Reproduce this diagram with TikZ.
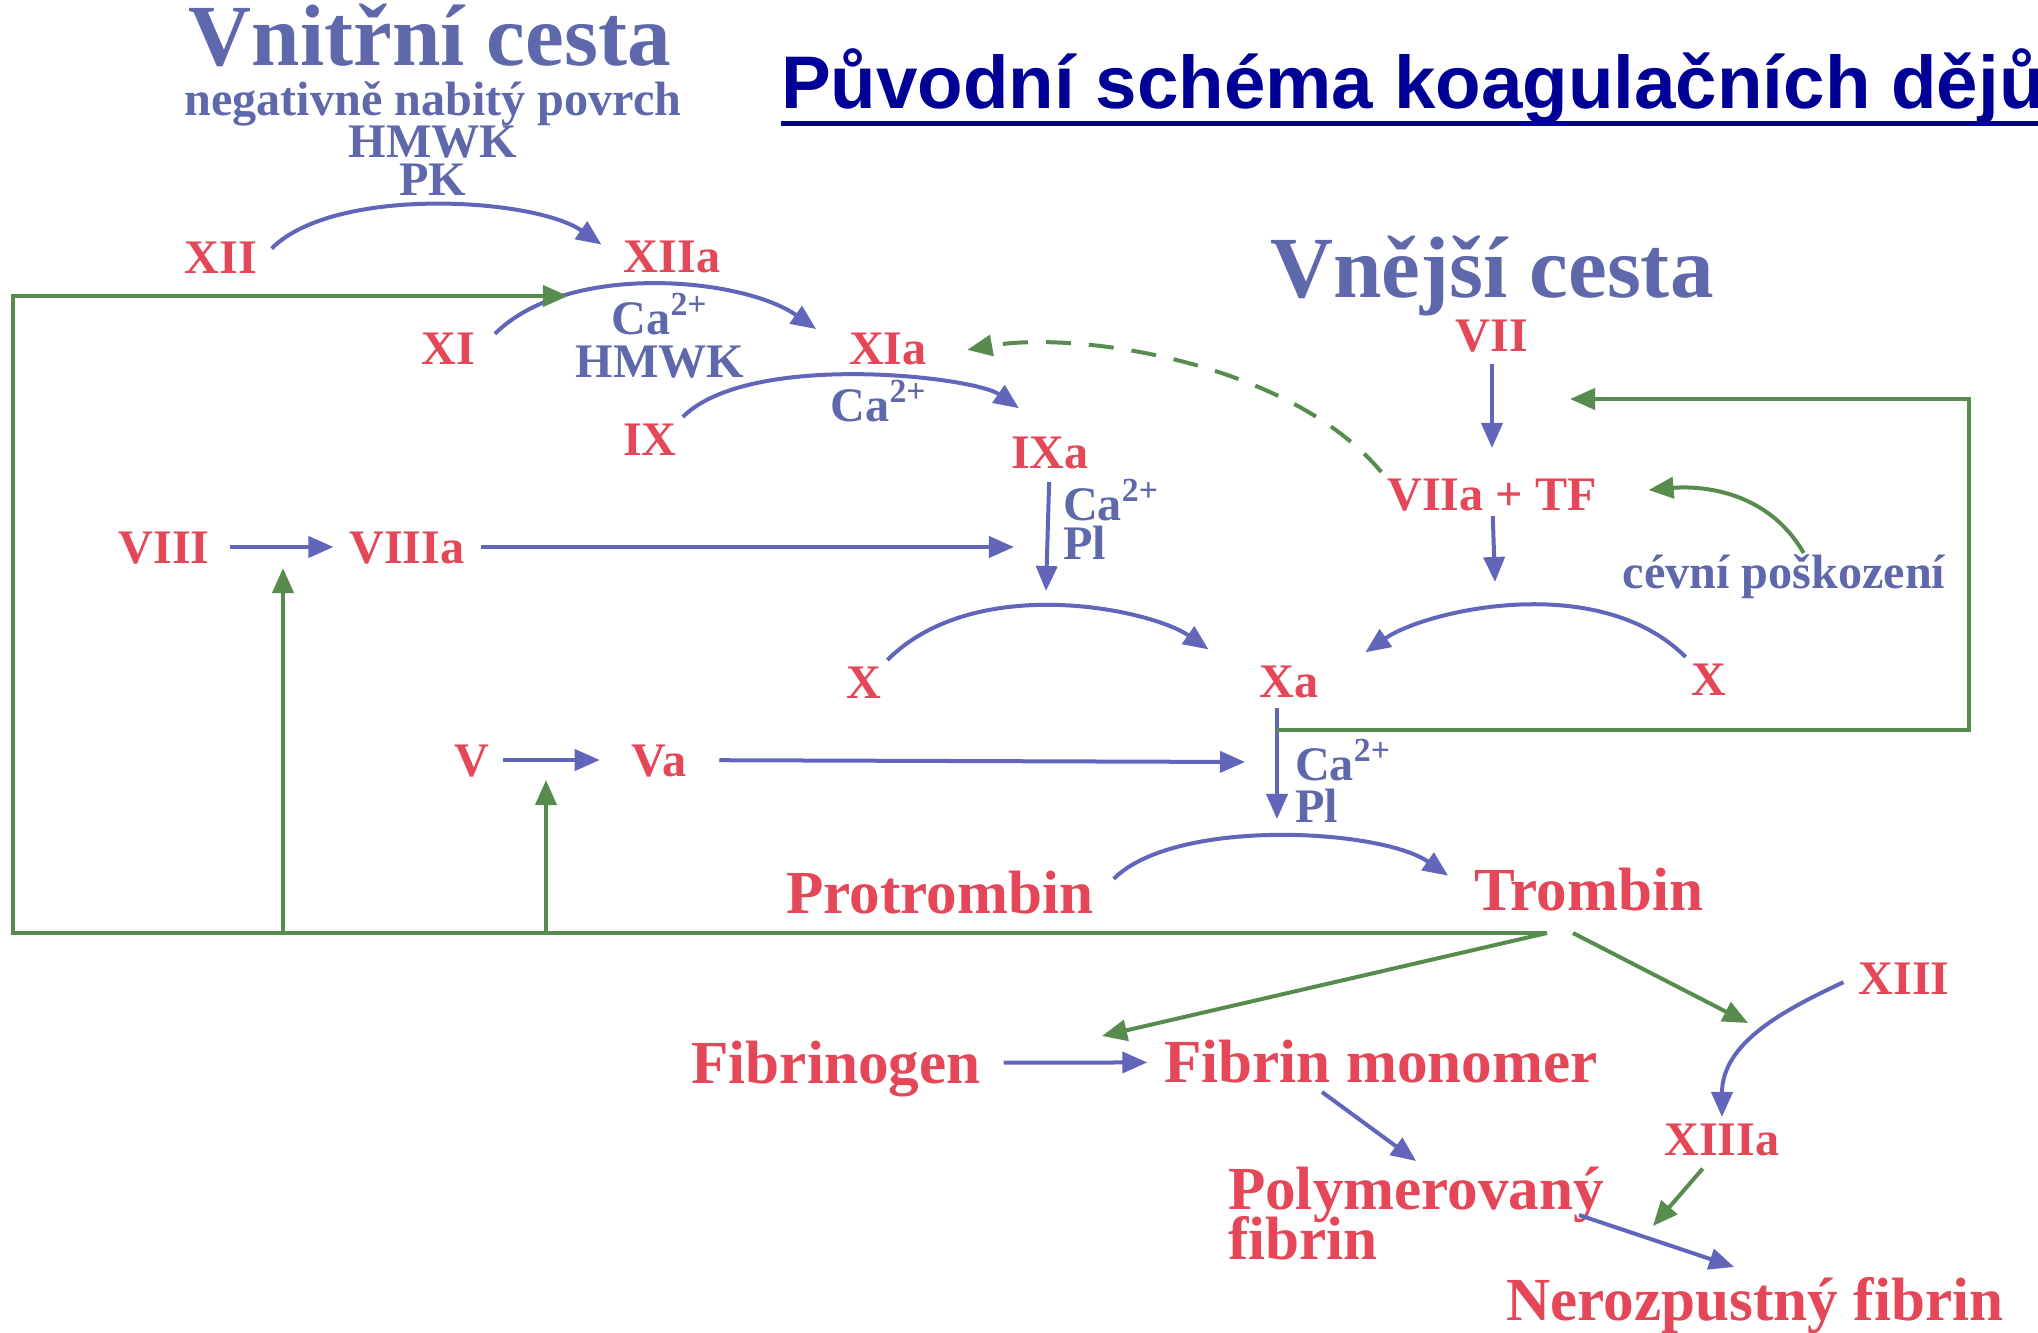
\documentclass[tikz,border=0pt]{standalone}
\usepackage{fontspec}
\setmainfont{Liberation Serif}
\newfontfamily\titlefont{Liberation Sans}
\usepackage{tikz}
\usetikzlibrary{arrows.meta,positioning}
\definecolor{labred}{RGB}{228,72,88}
\definecolor{labblue}{RGB}{96,104,172}
\definecolor{arrblue}{RGB}{98,102,186}
\definecolor{arrgreen}{RGB}{88,140,78}
\definecolor{titleblue}{RGB}{0,0,150}
\tikzset{
    %Define standard arrow tip
    >={Triangle[length=0.25cm,width=0.21cm]},
    %Define style for factors
    faktor/.style={
           rectangle,
           inner sep=0.06cm, outer sep=0pt,
           text height=0.32cm, text depth=0pt,
           font=\fontsize{13.7}{15}\selectfont\bfseries,
           text=labred},
    produkt/.style={
           faktor,
           text height=0.40cm,
           font=\fontsize{17.4}{12.8}\selectfont\bfseries},
    popis/.style={
           faktor,
           inner sep=0.03cm,
           text=labblue},
    nadpis/.style={
           faktor,
           text height=0.57cm,
           font=\fontsize{24.8}{26}\selectfont\bfseries,
           text=labblue},
    % Define arrow style
    pil/.style={
           ->,
           color=arrblue,
           line width=0.04cm},
    gpil/.style={
           pil,
           color=arrgreen}
}
\begin{document}
\begin{tikzpicture}[x=0.01cm,y=0.01cm]
\fill[white] (0,0) rectangle (2038,-1333);
\useasboundingbox (0,0) rectangle (2038,-1333);
% headings
\node[anchor=base west,inner sep=0pt,outer sep=0pt,text=titleblue,
      font=\titlefont\fontsize{21.2}{24}\selectfont\bfseries] (40) at (781,-108) {Původní schéma koagulačních dějů};
\draw[titleblue,line width=0.05cm] (40.south west) -- (40.south east);
\node[nadpis] (41) at (430,-37) {Vnitřní cesta};
\node[popis] (42) at (433,-99) {negativně nabitý povrch};
\node[popis] (43) at (433,-141) {HMWK};
\node[popis] (44) at (433,-179) {PK};
\node[nadpis] (45) at (1492,-269) {Vnější cesta};
% factors
\node[faktor] (1) at (221,-257) {XII};
\node[faktor] (2) at (672,-256) {XIIa};
\node[faktor] (3) at (448,-348) {XI};
\node[faktor] (4) at (888,-348) {XIa};
\node[faktor] (5) at (650,-439) {IX};
\node[faktor] (6) at (1050,-452) {IXa};
\node[faktor] (7) at (164,-547) {VIII};
\node[faktor] (8) at (407,-547) {VIIIa};
\node[faktor] (9) at (864,-682) {X};
\node[faktor] (10) at (1289,-681) {Xa};
\node[faktor] (11) at (1709,-679) {X};
\node[faktor] (12) at (1492,-335) {VII};
\node[faktor] (13) at (1492,-494) {VIIa + TF};
\node[faktor] (14) at (472,-760) {V};
\node[faktor] (15) at (659,-760) {Va};
\node[produkt] (16) at (940,-893) {Protrombin};
\node[produkt] (17) at (1589,-890) {Trombin};
\node[faktor] (18) at (1904,-978) {XIII};
\node[produkt] (19) at (836,-1063) {Fibrinogen};
\node[produkt] (20) at (1381,-1062) {Fibrin monomer};
\node[faktor] (21) at (1722,-1139) {XIIIa};
\node[produkt,align=left,text height=,text depth=,anchor=north west] (22) at (1222,-1161) {Polymerovaný\\[-0.1cm]fibrin};
\node[produkt] (23) at (1755,-1300) {Nerozpustný fibrin};
% cofactors
\node[popis] (24) at (660,-318) {Ca\textsuperscript{2+}};
\node[popis] (25) at (660,-361) {HMWK};
\node[popis] (26) at (879,-405) {Ca\textsuperscript{2+}};
\node[popis,anchor=west] (27) at (1060,-504) {Ca\textsuperscript{2+}};
\node[popis,anchor=west] (28) at (1060,-543) {Pl};
\node[popis,anchor=west] (29) at (1292,-764) {Ca\textsuperscript{2+}};
\node[popis,anchor=west] (30) at (1292,-806) {Pl};
\node[popis] (31) at (1784,-572) {cévní poškození};
% free ends
\coordinate (c1) at (1046,-591);
\coordinate (c2) at (1014,-547);
\coordinate (c3) at (1495,-582);
\coordinate (c4) at (1277,-819);
\coordinate (c5) at (1245,-762);
\coordinate (c6) at (1322,-1092);
\coordinate (c7) at (1579,-1215);
\coordinate (c8) at (1653,-1226);
\coordinate (c9) at (1748,-1023);
\coordinate (fm) at (1102,-1036);
\coordinate (t1) at (1547,-933);
\coordinate (t2) at (1573,-933);
\coordinate (v1) at (283,-568);
\coordinate (v2) at (546,-780);
\coordinate (l2) at (13,-296);
\coordinate (g2) at (568,-296);
\coordinate (g3) at (1277,-730);
\coordinate (r2) at (1969,-399);
\coordinate (g4) at (1570,-399);
\path[pil]
	(1.east) edge[out=45,in=145,looseness=0.73,shorten <=0.12cm,shorten >=0.2cm] (2.west)
	(3.east) edge[out=45,in=145,looseness=0.87,shorten <=0.2cm,shorten >=0.33cm] (4.west)
	(5.north east) edge[out=45,in=145,looseness=0.65,shorten >=0.38cm] (6.north)
	(6) edge[shorten <=0.08cm] (c1)
	(7) edge[shorten <=0.14cm,shorten >=0.1cm] (8)
	(8) edge[shorten <=0.1cm] (c2)
	(9.north east) edge[out=45,in=145,looseness=0.87,shorten >=0.55cm] (10.west)
	(11.north west) edge[out=135,in=35,looseness=0.87,shorten >=0.5cm] (10.east)
	(12) edge[shorten <=0.07cm,shorten >=0.24cm] (13)
	(13) edge (c3)
	(10.south -| c4) edge[shorten <=0.05cm] (c4)
	(14) edge[shorten <=0.08cm,shorten >=0.26cm] (15)
	(15) edge[shorten <=0.27cm] (c5)
	(16.east) edge[out=45,in=145,looseness=0.74,shorten <=0.2cm,shorten >=0.25cm] (17.west)
	(18.west) edge[out=205,in=90,shorten <=0.1cm] (21.north)
	(19) edge[shorten <=0.17cm,shorten >=0.11cm] (20)
	(c6) edge (22.north)
	(c7) edge[shorten >=0.22cm] (23.north);
\path[gpil]
	(t2) edge (c9)
	(t1) edge (fm)
	(v1 |- t1) edge (v1)
	(v2 |- t1) edge (v2)
	(13.north west) edge[out=130,in=10,looseness=0.8,dash pattern=on 0.25cm off 0.18cm,shorten >=0.35cm] (4.-10)
	(31.44) edge[out=120,in=5,shorten >=0.46cm] (13.east)
	(21.-120) edge[shorten <=0.1cm] (c8);
\draw[gpil] (t1) -| (l2) -- (g2);
\draw[gpil] (g3) -| (r2) -- (g4);
\end{tikzpicture}
\end{document}
